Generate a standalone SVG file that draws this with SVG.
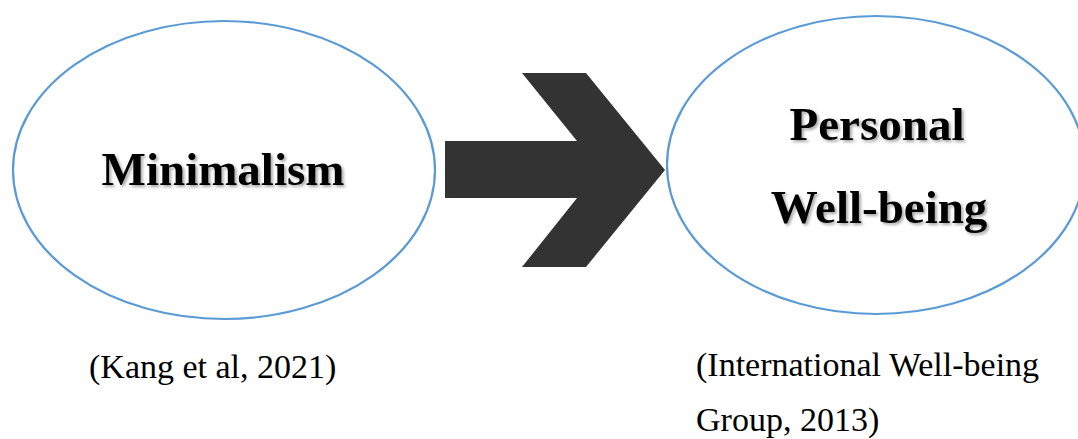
<svg xmlns="http://www.w3.org/2000/svg" width="1078" height="439" viewBox="0 0 1078 439">
  <style>
    .node { fill: #ffffff; stroke: #5B9BD5; stroke-width: 2.2; }
    .title { font-family: "Liberation Serif", "Times New Roman", serif; font-weight: bold; font-size: 47px; fill: #000000; text-anchor: middle; filter: url(#shadow); }
    .cite { font-family: "Liberation Serif", "Times New Roman", serif; font-size: 34px; fill: #000000; }
  </style>
  <defs>
    <filter id="shadow" x="-10%" y="-20%" width="120%" height="150%">
      <feDropShadow dx="2" dy="2" stdDeviation="1.5" flood-color="#000000" flood-opacity="0.35"/>
    </filter>
  </defs>
  <rect width="1078" height="439" fill="#ffffff"/>
  <g id="connectors">
    <polygon points="445,141 577,141 522,73 586,73 665,170 586,267 522,267 577,198 445,198" fill="#333333"/>
  </g>
  <g id="node-minimalism">
    <ellipse class="node" cx="224" cy="170" rx="211" ry="149"/>
    <text class="title" x="223" y="185">Minimalism</text>
  </g>
  <g id="node-wellbeing">
    <ellipse class="node" cx="876" cy="165" rx="209" ry="149"/>
    <text class="title" x="877" y="140">Personal</text>
    <text class="title" x="879" y="223">Well-being</text>
  </g>
  <g id="citation-left">
    <text class="cite" x="89" y="378">(Kang et al, 2021)</text>
  </g>
  <g id="citation-right">
    <text class="cite" x="696" y="376">(International Well-being</text>
    <text class="cite" x="696" y="431">Group, 2013)</text>
  </g>
</svg>
